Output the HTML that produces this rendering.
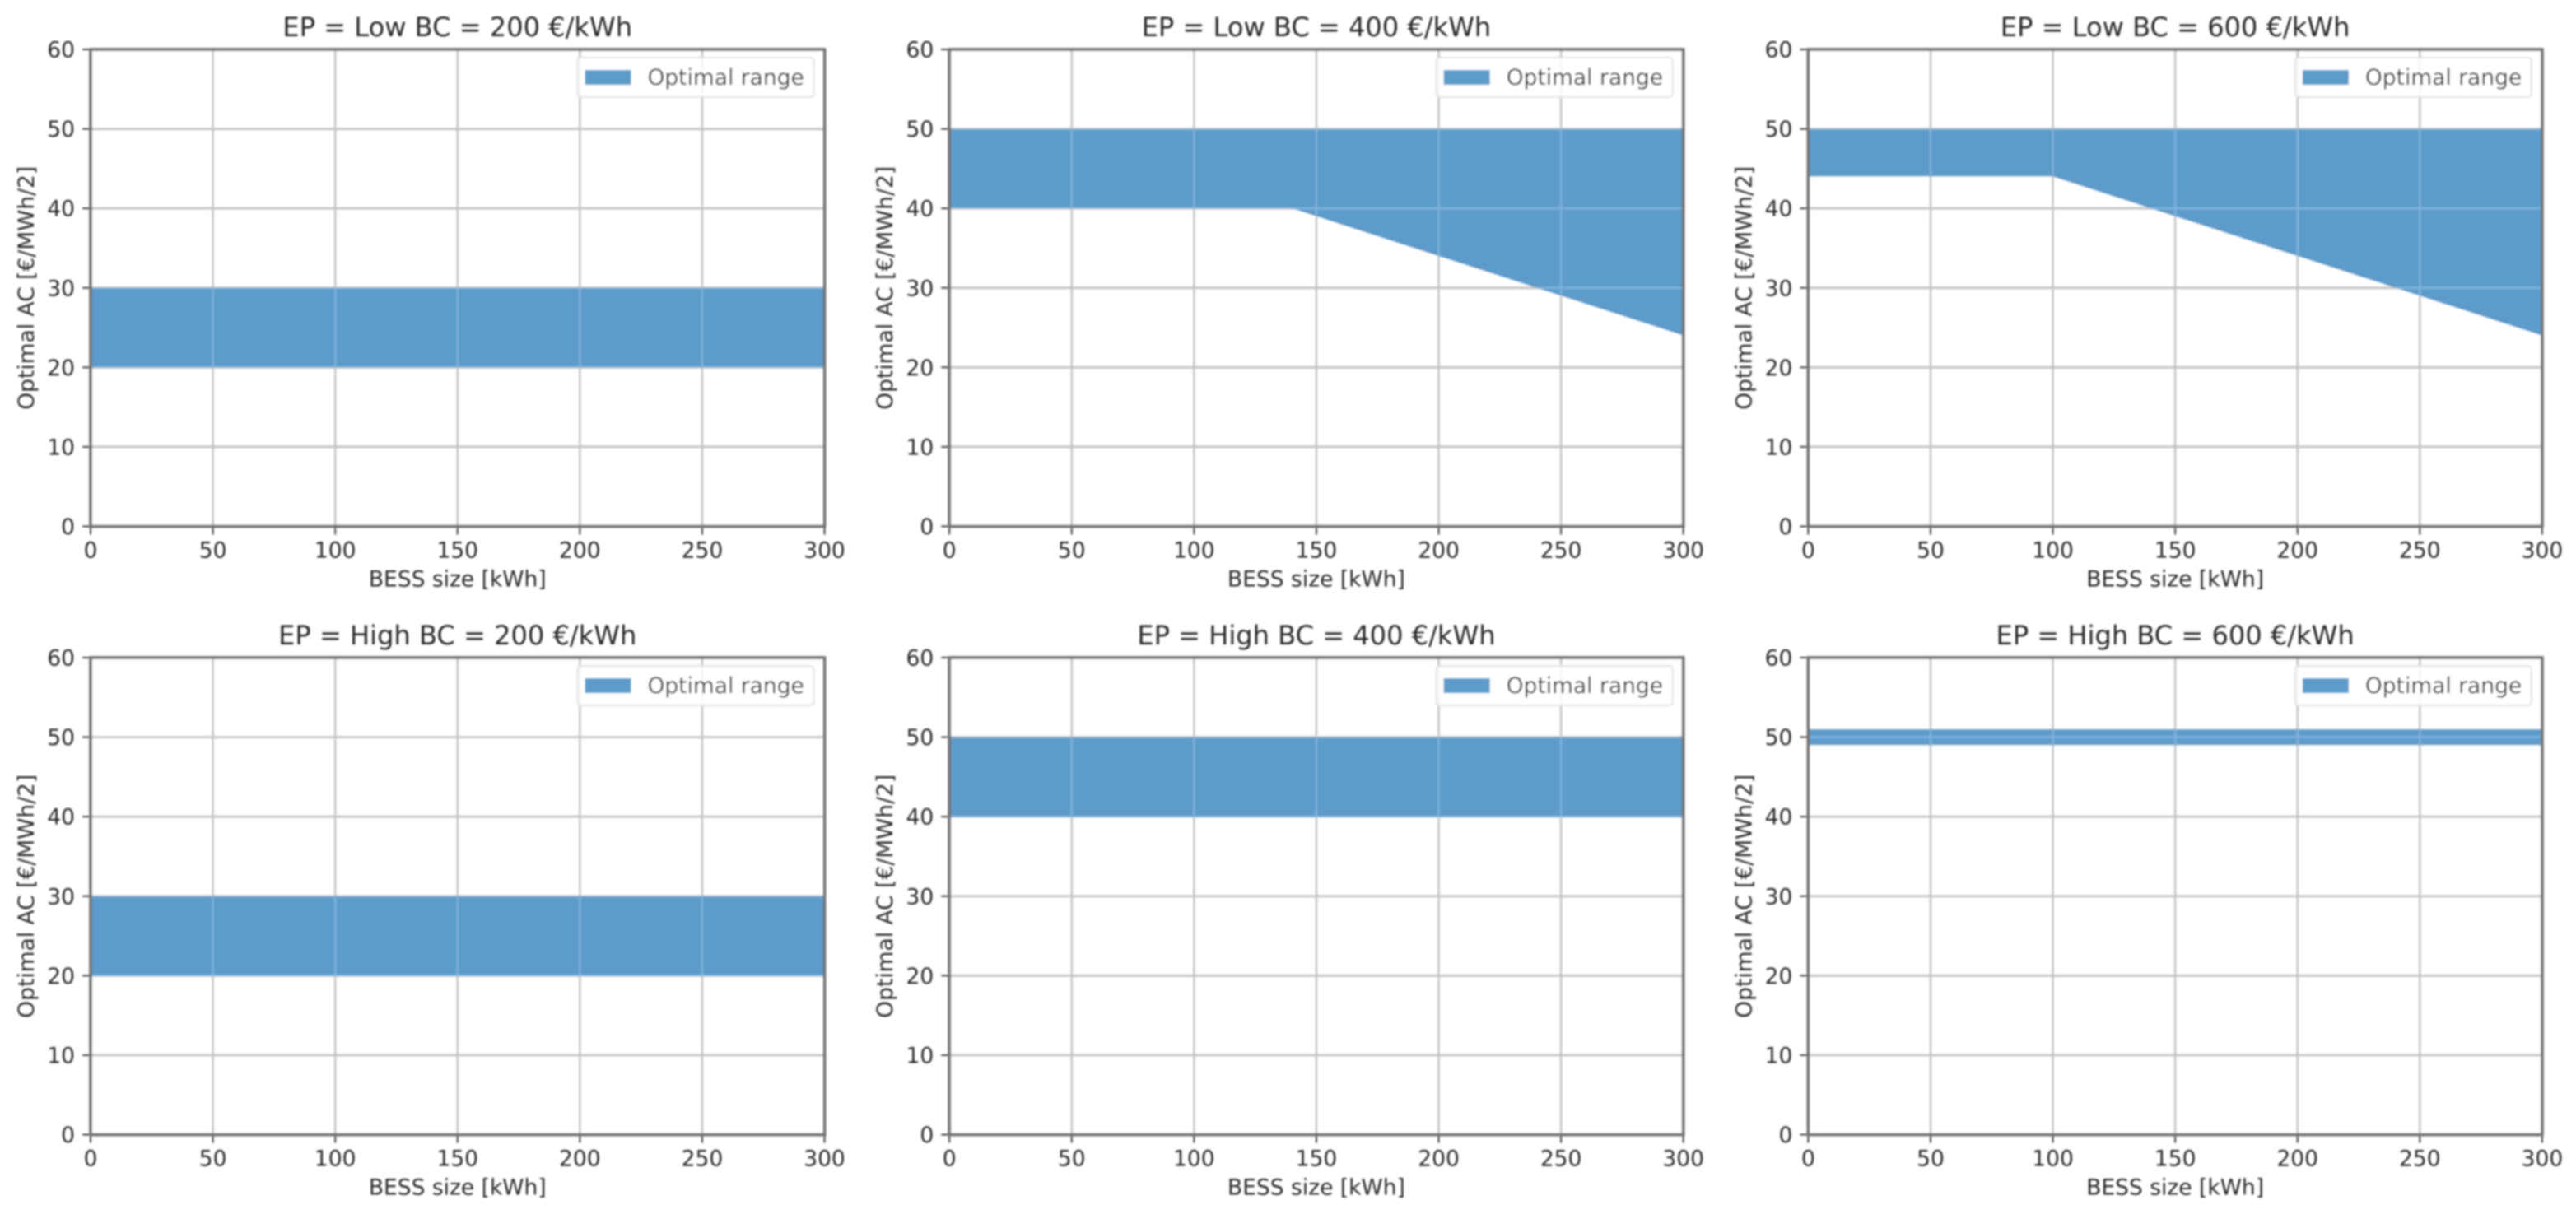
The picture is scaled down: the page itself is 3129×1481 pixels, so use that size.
<!DOCTYPE html>
<html lang="en">
<head>
<meta charset="utf-8">
<title>Optimal AC range by BESS size</title>
<style>
html,body{margin:0;padding:0;background:#fff;width:3129px;height:1481px;overflow:hidden}
svg{display:block}
text{font-family:"DejaVu Sans","Liberation Sans",sans-serif;fill:#2a2a2a}
</style>
</head>
<body>
<svg id="figure" xmlns="http://www.w3.org/2000/svg" width="3129" height="1481" viewBox="0 0 3129 1481">
<defs id="defs"><filter id="soft" x="0" y="0" width="100%" height="100%"><feGaussianBlur stdDeviation="1.15"/></filter></defs>
<rect width="3129" height="1481" fill="#fff"/>
<g id="root" filter="url(#soft)"></g>
</svg>
<script>
const panelTitles = ["EP = Low BC = 200 €/kWh","EP = Low BC = 400 €/kWh","EP = Low BC = 600 €/kWh","EP = High BC = 200 €/kWh","EP = High BC = 400 €/kWh","EP = High BC = 600 €/kWh"];
const xTicks = [0,50,100,150,200,250,300];
const yTicks = [0,10,20,30,40,50,60];
const xLabel = "BESS size [kWh]";
const yLabel = "Optimal AC [€/MWh/2]";
const legendLabel = "Optimal range";
const bessLow200 = [0,300];
const lowerLow200 = [20,20];
const upperLow200 = [30,30];
const bessLow400 = [0,140,300];
const lowerLow400 = [40,40,24];
const upperLow400 = [50,50,50];
const bessLow600 = [0,100,300];
const lowerLow600 = [44,44,24];
const upperLow600 = [50,50,50];
const bessHigh200 = [0,300];
const lowerHigh200 = [20,20];
const upperHigh200 = [30,30];
const bessHigh400 = [0,300];
const lowerHigh400 = [40,40];
const upperHigh400 = [50,50];
const bessHigh600 = [0,300];
const lowerHigh600 = [49,49];
const upperHigh600 = [51,51];
const xDomain = [0,300];
const yDomain = [0,60];

const panelSeries = [
  [bessLow200,lowerLow200,upperLow200],
  [bessLow400,lowerLow400,upperLow400],
  [bessLow600,lowerLow600,upperLow600],
  [bessHigh200,lowerHigh200,upperHigh200],
  [bessHigh400,lowerHigh400,upperHigh400],
  [bessHigh600,lowerHigh600,upperHigh600]
];

const NS = "http://www.w3.org/2000/svg";
const root = document.getElementById("root");
const defs = document.getElementById("defs");
const plotW = 891.5, plotH = 579.5;
const bandColor = "#5c9bca";
const bandGridColor = "#7db1da";

function make(parent, tag, attrs, txt){
  const el = document.createElementNS(NS, tag);
  for (const k in attrs) el.setAttribute(k, attrs[k]);
  if (txt !== undefined) el.textContent = txt;
  parent.appendChild(el);
  return el;
}

panelTitles.forEach(function(title, i){
  const col = i % 3, row = Math.floor(i / 3);
  const left = 110 + col * 1043.2;
  const top = 60 + row * 739;
  const sx = function(v){ return left + (v - xDomain[0]) / (xDomain[1] - xDomain[0]) * plotW; };
  const sy = function(v){ return top + plotH - (v - yDomain[0]) / (yDomain[1] - yDomain[0]) * plotH; };
  const slug = title.split(" ")[2].toLowerCase() + "-" + title.split(" ")[6];

  const g = make(root, "g", {});
  
  

  const plotBg = make(g, "rect", {x:left, y:top, width:plotW, height:plotH, fill:"#fff"});
  
  

  xTicks.forEach(function(t){
    const gl = make(g, "line", {x1:sx(t), x2:sx(t), y1:top, y2:top + plotH, stroke:"#c4c4c4", "stroke-width":2.6});
    
    
  });
  yTicks.forEach(function(t){
    const gl = make(g, "line", {x1:left, x2:left + plotW, y1:sy(t), y2:sy(t), stroke:"#c4c4c4", "stroke-width":3});
    
    
  });

  const series = panelSeries[i];
  const xs = series[0], lower = series[1], upper = series[2];
  let pts = [];
  xs.forEach(function(x, k){ pts.push(sx(x) + "," + sy(upper[k])); });
  for (let k = xs.length - 1; k >= 0; k--) pts.push(sx(xs[k]) + "," + sy(lower[k]));
  const band = make(g, "polygon", {points:pts.join(" "), fill:bandColor});
  
  

  const clip = make(defs, "clipPath", {id:"band-clip-" + i});
  make(clip, "polygon", {points:pts.join(" ")});
  const overlay = make(g, "g", {"clip-path":"url(#band-clip-" + i + ")"});
  
  
  xTicks.forEach(function(t){
    make(overlay, "line", {x1:sx(t), x2:sx(t), y1:top, y2:top + plotH, stroke:bandGridColor, "stroke-width":2.6});
  });
  yTicks.forEach(function(t){
    make(overlay, "line", {x1:left, x2:left + plotW, y1:sy(t), y2:sy(t), stroke:bandGridColor, "stroke-width":3});
  });

  xTicks.forEach(function(t){
    const tk = make(g, "line", {x1:sx(t), x2:sx(t), y1:top + plotH, y2:top + plotH + 10, stroke:"#444", "stroke-width":2});
    
    
    const lb = make(g, "text", {x:sx(t), y:top + plotH + 38, "text-anchor":"middle", "font-size":26.5}, String(t));
    
    
  });
  yTicks.forEach(function(t){
    const tk = make(g, "line", {x1:left - 10, x2:left, y1:sy(t), y2:sy(t), stroke:"#444", "stroke-width":2});
    
    
    const lb = make(g, "text", {x:left - 19, y:sy(t) + 9.5, "text-anchor":"end", "font-size":26.5}, String(t));
    
    
  });

  const frame = make(g, "rect", {x:left, y:top, width:plotW, height:plotH, fill:"none", stroke:"#757575", "stroke-width":3.8});
  
  

  const ttl = make(g, "text", {x:left + plotW / 2, y:top - 16, "text-anchor":"middle", "font-size":32.1}, title);
  
  

  const xt = make(g, "text", {x:left + plotW / 2, y:top + plotH + 73, "text-anchor":"middle", "font-size":26.5}, xLabel);
  
  

  const ycx = left - 69, ycy = top + plotH / 2;
  const yt = make(g, "text", {x:ycx, y:ycy, "text-anchor":"middle", "font-size":26.5, transform:"rotate(-90 " + ycx + " " + ycy + ")"}, yLabel);
  
  

  const leg = make(g, "g", {});
  
  
  const legRight = left + plotW - 13;
  const box = make(leg, "rect", {x:legRight - 287, y:top + 10, width:287, height:48, rx:4, fill:"#fff", "fill-opacity":0.85, stroke:"#e2e2e2", "stroke-width":2});
  
  
  const sw = make(leg, "rect", {x:legRight - 278, y:top + 25, width:56, height:18, fill:bandColor});
  
  
  const lt = make(leg, "text", {x:legRight - 202, y:top + 43, "font-size":26.5}, legendLabel);
  
  
});
</script>
</body>
</html>
